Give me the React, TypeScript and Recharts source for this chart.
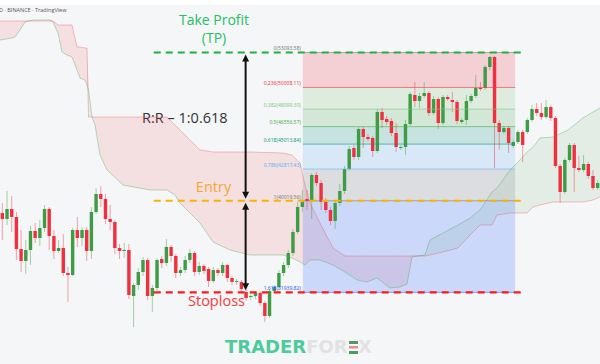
import { Area, Bar, ComposedChart, Line, ReferenceArea, ReferenceLine, XAxis, YAxis } from "recharts";

// daily candles, left to right (USDT)
const OPEN = [
  38937, 38408, 39290, 38585, 35762, 34704, 35674, 37350, 36732, 37614, 39290, 36909, 35586, 35850, 33645, 33469,
  37438, 36732, 37438, 35586, 39026, 40613, 40172, 38408, 38144, 35850, 35586, 35674, 31617, 32587, 33734, 34792,
  31617, 32322, 34880, 34527, 35939, 35145, 33645, 33910, 34792, 35409, 33734, 34263, 33998, 32940, 33910, 33645,
  34351, 33204, 32852, 32852, 31970, 31529, 31617, 31882, 30999, 29853, 32058, 32411, 33645, 34351, 35409, 37262,
  39467, 40172, 40084, 42289, 41583, 39908, 39202, 38232, 39819, 40878, 42818, 44670, 43877, 46346, 45641, 45552,
  44406, 47846, 47228, 47052, 45993, 44670, 44759, 46787, 49345, 48816, 49257, 49522, 47757, 48992, 46875, 49169,
  48904, 48728, 46964, 47140, 48816, 49257, 49962, 49962, 51815, 52697, 46875, 46082, 46434, 44847, 45200, 46082,
  46082, 47140, 48110, 47757, 47404, 48287, 47316, 43083, 40790, 43612, 44935, 42906, 42730, 43259, 42201, 41142,
];
const HIGH = [
  39819, 40878, 40437, 39026, 37438, 36556, 37791, 38055, 38320, 39643, 39467, 37438, 36556, 37085, 34175, 37614,
  38585, 37703, 37703, 39467, 41142, 41319, 40613, 39643, 38320, 36203, 36291, 36203, 32763, 34086, 35057, 34968,
  32587, 34968, 35145, 36644, 36115, 35321, 34175, 35145, 35762, 35586, 34616, 34439, 34175, 34175, 34086, 34616,
  34439, 33381, 33116, 33028, 32234, 31793, 32058, 32058, 31176, 32234, 32587, 33910, 34616, 35674, 37526, 39908,
  40966, 40966, 42465, 42554, 41848, 40260, 39467, 39996, 41495, 43083, 44847, 44935, 46523, 46611, 45905, 45729,
  48110, 48198, 47493, 47316, 46875, 44935, 47140, 49610, 50492, 49522, 50492, 49698, 49257, 49169, 49345, 49345,
  49610, 48904, 47316, 49345, 49434, 51109, 50492, 51991, 52785, 52785, 47140, 46611, 46611, 45376, 46258, 46258,
  47316, 48463, 48639, 48639, 48904, 48463, 47493, 43259, 43788, 45111, 45111, 43965, 44053, 43436, 42730, 41848,
];
const LOW = [
  36556, 37879, 37262, 34792, 33734, 33557, 34351, 36291, 36027, 37262, 35674, 34880, 35409, 33381, 31088, 33381,
  35939, 36027, 34704, 34880, 38849, 39467, 37967, 37438, 35321, 34880, 34968, 31352, 28883, 32146, 33381, 31264,
  30206, 32058, 34086, 34263, 34616, 33204, 33381, 33645, 34527, 33381, 33469, 33557, 32411, 32763, 33381, 33381,
  32852, 32587, 32587, 31970, 31176, 31264, 31352, 30735, 29324, 29676, 31882, 32146, 33381, 34086, 35145, 37085,
  39026, 39202, 38408, 41319, 39202, 38937, 37879, 37526, 39555, 40613, 42642, 43612, 43612, 44670, 45288, 43877,
  44229, 46434, 46699, 45729, 44318, 44494, 44053, 46611, 48287, 48198, 49081, 47493, 47581, 46346, 46699, 48816,
  47846, 46787, 46787, 46699, 48639, 49081, 49698, 49786, 51550, 42906, 44494, 45905, 44229, 44670, 45023, 43436,
  45905, 46964, 47493, 47140, 47228, 47052, 42906, 39819, 40613, 43436, 40790, 42554, 42554, 41936, 40966, 40966,
];
const CLOSE = [
  38408, 39290, 38585, 35762, 34704, 35674, 37350, 36732, 37614, 39290, 36909, 35586, 35850, 33645, 33469, 37438,
  36732, 37438, 35586, 39026, 40613, 40172, 38408, 38144, 35850, 35586, 35674, 31705, 32587, 33734, 34792, 31617,
  32322, 34792, 34527, 35939, 35145, 33645, 33910, 34792, 35409, 33734, 34263, 33822, 32940, 33910, 33645, 34351,
  33204, 32852, 32940, 32234, 31440, 31617, 31882, 30999, 29853, 32058, 32411, 33645, 34351, 35409, 37262, 39467,
  39908, 39996, 42289, 41583, 39908, 39202, 38232, 39819, 40878, 42818, 44582, 43877, 46346, 45641, 45464, 44406,
  47846, 47140, 46964, 45993, 44759, 44759, 46787, 49434, 48816, 49257, 49522, 47757, 48992, 46875, 49169, 48992,
  48728, 47052, 47140, 48816, 49257, 49962, 49874, 51815, 52697, 46875, 46082, 46434, 45111, 45200, 46082, 44935,
  47140, 48110, 47757, 47404, 48287, 47316, 43083, 40790, 43612, 44935, 42906, 42730, 43259, 42201, 41142, 41583,
];

// ichimoku cloud, sampled along the candle axis (candle index units)
const CLOUD_T = [
  0, 2.56, 3.2, 4.27, 5.33, 7.04, 10.67, 11.31, 12.37, 13.23, 14.29, 15.36, 16.43, 17.07, 18.13, 18.56, 18.88, 19.63,
  20.27, 21.33, 22.83, 26.24, 32, 35.63, 37.33, 38.4, 40.53, 42.67, 45.44, 49.07, 53.33, 60.37, 62.29, 64, 65.07, 66.13,
  68.27, 71.04, 73.6, 76.16, 78.29, 80.43, 83.2, 85.33, 86.83, 87.89, 90.67, 91.73, 94.51, 97.71, 100.27, 102.4, 104.96,
  106.03, 108.8, 110.93, 112.43, 113.71, 115.2, 117.97, 121.17, 124.37, 126.51, 128,
];
const SPAN_A = [
  54196, 54372, 54461, 55078, 55784, 55960, 55960, 55784, 54813, 53138, 52873, 52697, 51550, 50844, 50668, 50227, 49786, 47404,
  46699, 44053, 42730, 41407, 40966, 40966, 40525, 39819, 38937, 38055, 36380, 35674, 35233, 35233, 34968, 34616, 34351, 34792,
  34792, 34351, 33734, 33028, 32852, 33204, 32322, 32411, 32675, 35057, 35233, 36556, 37173, 37879, 38496, 39202, 40790,
  41142, 42730, 43612, 44318, 44759, 45552, 45641, 46258, 47316, 47846, 48198,
];
const SPAN_B = [
  55872, 55872, 55872, 55872, 55872, 55872, 55872, 55872, 55519, 55519, 55519, 55519, 53579, 53579, 53490, 53490, 47404, 47404,
  47404, 47404, 47404, 47404, 47404, 47404, 46699, 46258, 45376, 44494, 44318, 44318, 44318, 44229, 44053, 43347, 41407, 39819,
  38055, 35850, 35145, 35145, 35145, 35145, 35145, 35145, 35145, 35145, 35145, 35233, 35498, 35850, 36997, 37879, 37879,
  38761, 38937, 38937, 38937, 39467, 39643, 39908, 39908, 39908, 40084, 40349,
];

// fibonacci retracement
const FIB_RATIOS = ["0", "0.236", "0.382", "0.5", "0.618", "0.786", "1", "1.618"];
const FIB_PRICES = [53093.58, 50008.11, 48099.3, 46556.57, 45013.84, 42817.43, 40019.56, 31939.82];
const FIB_COLORS = ["#787b86", "#f23645", "#81c784", "#4caf50", "#089981", "#64b5f6", "#787b86", "#2962ff"];
const FIB_SPAN = [64.6, 109.9];

const TAKE_PROFIT = 53093.58;
const ENTRY = 40019.56;
const STOP_LOSS = 31939.82;
const LEVEL_SPAN = [32.8, 111.6];
const ARROW_T = 52.4;

const PRICE_DOMAIN = [25619, 57724];

const UP = "#3d9c44";
const DOWN = "#f0303f";

const candles = OPEN.map((open, i) => ({ t: i + 0.5, open, high: HIGH[i], low: LOW[i], close: CLOSE[i] }));

const cloud = CLOUD_T.map((t, i) => {
  const a = SPAN_A[i];
  const b = SPAN_B[i];
  const top = Math.max(a, b);
  return { t, a, b, bear: [a, top], bull: [b, top] };
});

function Candle(props: any) {
  const { x, y, width, height, payload } = props;
  if (!payload || height == null || isNaN(y)) return null;
  const { open, high, low, close } = payload;
  const h = Math.abs(height);
  const top = Math.min(y, y + height);
  const k = h / (high - low || 1);
  const py = (v: number) => top + (high - v) * k;
  const cx = x + width / 2;
  const color = close >= open ? UP : DOWN;
  const bodyTop = py(Math.max(open, close));
  const bodyH = Math.max(1, py(Math.min(open, close)) - bodyTop);
  return (
    <g>
      <line x1={cx} x2={cx} y1={top} y2={top + h} stroke={color} strokeOpacity={0.45} strokeWidth={1} />
      <rect x={cx - 1.7} y={bodyTop} width={3.4} height={bodyH} fill={color} />
    </g>
  );
}

function fibLevel(label: string, color: string) {
  return (p: any) => (
    <g>
      <line x1={p.x1} x2={p.x2} y1={p.y1} y2={p.y2} stroke={color} strokeOpacity={0.6} strokeWidth={1} />
      <text x={p.x1 - 2} y={p.y1 - 2.2} textAnchor="end" fill={color} fontSize={5} fontFamily="Noto Sans">
        {label}
      </text>
    </g>
  );
}

function arrow(p: any) {
  const x = p.x1;
  const top = Math.min(p.y1, p.y2) + 2;
  const bottom = Math.max(p.y1, p.y2) - 2;
  return (
    <g>
      <line x1={x} x2={x} y1={top + 5} y2={bottom - 5} stroke="#111" strokeWidth={2} />
      <path d={`M${x},${top} L${x - 3.5},${top + 7} L${x + 3.5},${top + 7} Z`} fill="#111" />
      <path d={`M${x},${bottom} L${x - 3.5},${bottom - 7} L${x + 3.5},${bottom - 7} Z`} fill="#111" />
    </g>
  );
}

export default function App() {
  return (
    <div style={{ position: "absolute", left: 0, top: 0, width: 600, height: 364, background: "#f5f6f8", overflow: "hidden" }}>
      <ComposedChart width={600} height={364} data={candles} margin={{ top: 0, right: 0, bottom: 0, left: 0 }}>
        <XAxis dataKey="t" type="number" domain={[0, 128]} allowDataOverflow hide />
        <YAxis type="number" domain={PRICE_DOMAIN} allowDataOverflow hide />

        <Area data={cloud} dataKey="bear" type="linear" stroke="none" fill="#f23645" fillOpacity={0.12} dot={false} activeDot={false} isAnimationActive={false} />
        <Area data={cloud} dataKey="bull" type="linear" stroke="none" fill="#43a047" fillOpacity={0.1} dot={false} activeDot={false} isAnimationActive={false} />

        {FIB_PRICES.slice(0, -1).map((p, i) => (
          <ReferenceArea
            key={FIB_RATIOS[i]}
            x1={FIB_SPAN[0]}
            x2={FIB_SPAN[1]}
            y1={p}
            y2={FIB_PRICES[i + 1]}
            fill={FIB_COLORS[i + 1]}
            fillOpacity={0.2}
            stroke="none"
          />
        ))}

        <Line data={cloud} dataKey="a" type="linear" stroke="#43a047" strokeOpacity={0.35} strokeWidth={1} dot={false} activeDot={false} isAnimationActive={false} />
        <Line data={cloud} dataKey="b" type="linear" stroke="#f23645" strokeOpacity={0.3} strokeWidth={1} dot={false} activeDot={false} isAnimationActive={false} />

        {FIB_PRICES.map((p, i) => (
          <ReferenceLine
            key={`lvl-${FIB_RATIOS[i]}`}
            segment={[{ x: FIB_SPAN[0], y: p }, { x: FIB_SPAN[1], y: p }]}
            shape={fibLevel(`${FIB_RATIOS[i]}(${p.toFixed(2)})`, FIB_COLORS[i])}
          />
        ))}

        <Bar dataKey={(d: any) => [d.low, d.high]} shape={Candle} barSize={4} isAnimationActive={false} />

        <ReferenceLine segment={[{ x: LEVEL_SPAN[0], y: TAKE_PROFIT }, { x: LEVEL_SPAN[1], y: TAKE_PROFIT }]} stroke="#1db23e" strokeWidth={2} strokeDasharray="7 5" />
        <ReferenceLine segment={[{ x: LEVEL_SPAN[0], y: ENTRY }, { x: LEVEL_SPAN[1], y: ENTRY }]} stroke="#f7b300" strokeWidth={2} strokeDasharray="7 5" />
        <ReferenceLine segment={[{ x: LEVEL_SPAN[0], y: STOP_LOSS }, { x: LEVEL_SPAN[1], y: STOP_LOSS }]} stroke="#ff1a1a" strokeWidth={2.2} strokeDasharray="7 5" />

        <ReferenceLine segment={[{ x: ARROW_T, y: TAKE_PROFIT }, { x: ARROW_T, y: ENTRY }]} shape={arrow} />
        <ReferenceLine segment={[{ x: ARROW_T, y: ENTRY }, { x: ARROW_T, y: STOP_LOSS }]} shape={arrow} />

        <g fontFamily="Open Sans">
          <rect x={0} y={0} width={600} height={5} fill="#ffffff" />
          <text x={-1} y={12} fontSize={5.5} fill="#555">D · BINANCE · TradingView</text>
          <text x={214} y={25} textAnchor="middle" fontSize={14} fill="#22c064">Take Profit</text>
          <text x={214} y={43} textAnchor="middle" fontSize={14} fill="#22c064">(TP)</text>
          <text x={142} y={123} fontSize={14.5} fill="#333">R:R – 1:0.618</text>
          <text x={213.5} y={192} textAnchor="middle" fontSize={14.5} fill="#f5b82e">Entry</text>
          <text x={216.5} y={306} textAnchor="middle" fontSize={14.5} fill="#f33a3d">Stoploss</text>
        </g>

        <g fontFamily="DejaVu Sans" fontWeight="bold" fontSize={18}>
          <text x={225} y={353}>
            <tspan fill="#4ecb9d">TRADER</tspan>
            <tspan fill="#e2e2e2">FOR</tspan>
          </text>
          <rect x={349} y={341} width={9} height={3} fill="#4f9a5c" />
          <rect x={349} y={346} width={9} height={2.5} fill="#ef8a8e" />
          <rect x={349} y={351} width={9} height={3} fill="#4f9a5c" />
          <text x={358} y={353} fill="#e2e2e2">X</text>
        </g>
      </ComposedChart>
    </div>
  );
}
